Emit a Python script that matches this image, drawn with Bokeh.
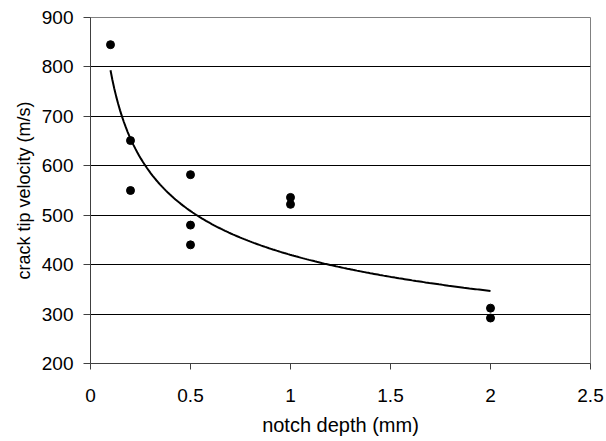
import numpy as np
from bokeh.plotting import figure
from bokeh.models import Range1d, FixedTicker
from bokeh.embed import file_html
from bokeh.resources import INLINE

# notch depth (mm) and crack tip velocity (m/s)
notch_depth = [0.1, 0.2, 0.2, 0.5, 0.5, 0.5, 1.0, 1.0, 2.0, 2.0]
velocity = [845, 651, 550, 582, 480, 440, 536, 522, 312, 292]

x_ticks = [0, 0.5, 1, 1.5, 2, 2.5]
y_ticks = [200, 300, 400, 500, 600, 700, 800, 900]

# power-law trendline fitted to the data (as in a spreadsheet "power" trendline)
lx = np.log(np.array(notch_depth))
ly = np.log(np.array(velocity, dtype=float))
b, ln_a = np.polyfit(lx, ly, 1)
a = np.exp(ln_a)
fit_x = np.linspace(min(notch_depth), max(notch_depth), 200)
fit_y = a * fit_x ** b

FONT = "Liberation Sans"

p = figure(width=606, height=441, output_backend="svg", toolbar_location=None,
           x_range=Range1d(0, 2.5), y_range=Range1d(200, 900),
           min_border_left=90, min_border_right=16, min_border_top=17, min_border_bottom=78)

p.outline_line_color = "#808080"
p.outline_line_width = 1

p.xgrid.visible = False
p.ygrid.grid_line_color = "#000000"
p.ygrid.grid_line_width = 1
p.ygrid.ticker = FixedTicker(ticks=y_ticks)

for ax in (p.xaxis[0], p.yaxis[0]):
    ax.axis_line_color = "#404040"
    ax.major_tick_line_color = "#404040"
    ax.major_tick_out = 6
    ax.major_tick_in = 0
    ax.minor_tick_line_color = None
    ax.major_label_text_font = FONT
    ax.major_label_text_font_size = "19px"
    ax.major_label_text_color = "#000000"
    ax.axis_label_text_font = FONT
    ax.axis_label_text_font_style = "normal"
    ax.axis_label_text_color = "#000000"

p.xaxis.axis_label_text_font_size = "20px"
p.yaxis.axis_label_text_font_size = "18px"
p.yaxis.major_tick_out = 7

p.xaxis.ticker = FixedTicker(ticks=x_ticks)
p.yaxis.ticker = FixedTicker(ticks=y_ticks)
p.xaxis.axis_label = "notch depth (mm)"
p.yaxis.axis_label = "crack tip velocity (m/s)"
p.xaxis.major_label_standoff = 19
p.yaxis.major_label_standoff = 10
p.xaxis.axis_label_standoff = 9
p.yaxis.axis_label_standoff = 5

p.line(fit_x, fit_y, line_color="#000000", line_width=2)
p.scatter(notch_depth, velocity, size=8, fill_color="#000000", line_color="#000000")

open("out.html", "w").write(file_html(p, INLINE))
